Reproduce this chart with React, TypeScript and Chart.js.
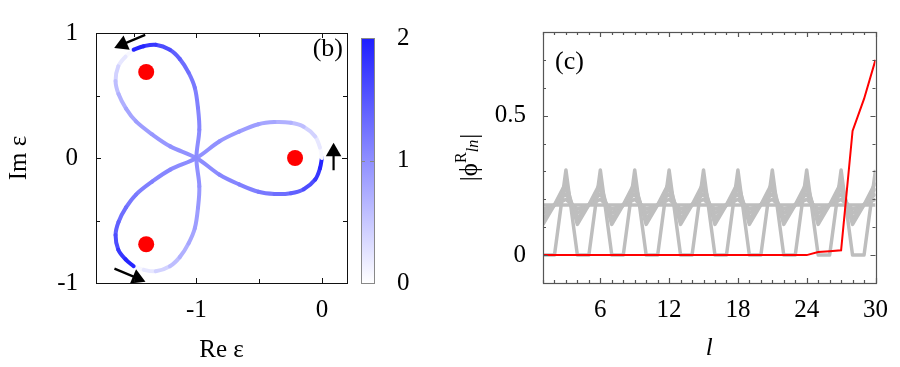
import React, { useEffect, useRef } from 'react';
import { Chart, registerables } from 'chart.js';

Chart.register(...registerables);

const FONT = "'Liberation Serif', 'DejaVu Serif', serif";

// ---------- panel (b): spectrum in the complex plane (Re eps, Im eps) ----------
// three open paths between the lobe tips, traversed in the arrow direction
const PATH1_X = [0, -0.0155, -0.0535, -0.1448, -0.2469, -0.3773, -0.5062, -0.66, -0.8153, -1, -1.2082, -1.3526, -1.4811, -1.5606, -1.6205, -1.6441, -1.6223, -1.5642, -1.5];
const PATH1_Y = [0, 0.083, 0.172, 0.25, 0.2816, 0.2878, 0.2704, 0.2108, 0.1337, 0, -0.0931, -0.189, -0.2924, -0.3954, -0.5114, -0.6156, -0.7337, -0.8111, -0.866];
const PATH2_X = [-1.5, -1.4204, -1.3243, -1.2111, -1.1327, -1.0622, -1.0127, -0.9874, -0.9766, -1, -0.9766, -0.9874, -1.0127, -1.0622, -1.1327, -1.2111, -1.3243, -1.4204, -1.5];
const PATH2_Y = [-0.866, -0.8941, -0.9057, -0.8656, -0.793, -0.6832, -0.5628, -0.3998, -0.2269, 0, 0.2269, 0.3998, 0.5628, 0.6832, 0.793, 0.8656, 0.9057, 0.8941, 0.866];
const PATH3_X = [-1.5, -1.5642, -1.6223, -1.6441, -1.6205, -1.5606, -1.4811, -1.3526, -1.2082, -1, -0.8153, -0.66, -0.5062, -0.3773, -0.2469, -0.1448, -0.0535, -0.0155, 0];
const PATH3_Y = [0.866, 0.8111, 0.7337, 0.6156, 0.5114, 0.3954, 0.2924, 0.189, 0.0931, 0, -0.1337, -0.2108, -0.2704, -0.2878, -0.2816, -0.25, -0.172, -0.083, 0];
// colour-bar value along each path (0 .. 2)
const CURVE_VALUES = [0, 0.12, 0.3, 0.5, 0.65, 0.76, 0.84, 0.9, 0.95, 1.0, 1.05, 1.1, 1.16, 1.24, 1.34, 1.48, 1.68, 1.88, 2.0];

const POLES_X = [-1.4, -0.214, -1.4];
const POLES_Y = [0.688, 0, -0.69];

const ARROW_TAIL_X = [0.093, -1.408, -1.653];
const ARROW_TAIL_Y = [-0.098, 0.985, -0.885];
const ARROW_HEAD_X = [0.093, -1.589, -1.472];
const ARROW_HEAD_Y = [0.051, 0.909, -0.961];
const ARROW_ANGLE = [0, 247, 113];

const X_TICKS_B = [-1.5, -1, -0.5, 0];
const X_LABELS_B = ['', '-1', '', '0'];
const Y_TICKS_B = [-1, -0.5, 0, 0.5, 1];
const Y_LABELS_B = ['-1', '', '0', '', '1'];
const CBAR_TICKS = [0, 1, 2];
const CBAR_LABELS = ['0', '1', '2'];

// ---------- panel (c): |phi^R_ln| versus site l ----------
const SITES = [1, 2, 3, 4, 5, 6, 7, 8, 9, 10, 11, 12, 13, 14, 15, 16, 17, 18, 19, 20, 21, 22, 23, 24, 25, 26, 27, 28, 29, 30];
const X_LABELS_C = ['', '', '', '', '', '6', '', '', '', '', '', '12', '', '', '', '', '', '18', '', '', '', '', '', '24', '', '', '', '', '', '30'];
const Y_TICKS_C = [-0.1, 0, 0.1, 0.2, 0.3, 0.4, 0.5, 0.6, 0.7, 0.8];
const Y_LABELS_C = ['', '0', '', '', '', '', '0.5', '', '', ''];

const GREY_A = [0, 0, 0.305, 0, 0, 0.305, 0, 0, 0.305, 0, 0, 0.305, 0, 0, 0.305, 0, 0, 0.305, 0, 0, 0.305, 0, 0, 0.305, 0, 0, 0.305, 0, 0, 0.305];
const GREY_B1 = [0.11, 0.18, 0.26, 0.11, 0.18, 0.26, 0.11, 0.18, 0.26, 0.11, 0.18, 0.26, 0.11, 0.18, 0.26, 0.11, 0.18, 0.26, 0.11, 0.18, 0.26, 0.11, 0.18, 0.26, 0.11, 0.18, 0.26, 0.11, 0.18, 0.26];
const GREY_B2 = [0.13, 0.18, 0.24, 0.13, 0.18, 0.24, 0.13, 0.18, 0.24, 0.13, 0.18, 0.24, 0.13, 0.18, 0.24, 0.13, 0.18, 0.24, 0.13, 0.18, 0.24, 0.13, 0.18, 0.24, 0.13, 0.18, 0.24, 0.13, 0.18, 0.24];
const GREY_B3 = [0.15, 0.18, 0.22, 0.15, 0.18, 0.22, 0.15, 0.18, 0.22, 0.15, 0.18, 0.22, 0.15, 0.18, 0.22, 0.15, 0.18, 0.22, 0.15, 0.18, 0.22, 0.15, 0.18, 0.22, 0.15, 0.18, 0.22, 0.15, 0.18, 0.22];
const GREY_B4 = [0.165, 0.18, 0.2, 0.165, 0.18, 0.2, 0.165, 0.18, 0.2, 0.165, 0.18, 0.2, 0.165, 0.18, 0.2, 0.165, 0.18, 0.2, 0.165, 0.18, 0.2, 0.165, 0.18, 0.2, 0.165, 0.18, 0.2, 0.165, 0.18, 0.2];
const GREY_FLAT = [0.18, 0.18, 0.18, 0.18, 0.18, 0.18, 0.18, 0.18, 0.18, 0.18, 0.18, 0.18, 0.18, 0.18, 0.18, 0.18, 0.18, 0.18, 0.18, 0.18, 0.18, 0.18, 0.18, 0.18, 0.18, 0.18, 0.18, 0.18, 0.18, 0.18];
const RED_STATE = [0, 0, 0, 0, 0, 0, 0, 0, 0, 0, 0, 0, 0, 0, 0, 0, 0, 0, 0, 0, 0, 0, 0, 0, 0.011, 0.014, 0.017, 0.445, 0.56, 0.7];

function zip(xs: number[], ys: number[]) {
  return xs.map((x, i) => ({ x, y: ys[i] }));
}

function blue(v: number) {
  const t = Math.max(0, Math.min(1, v / 2));
  const c = Math.round(255 - t * 225);
  return `rgb(${c},${c},255)`;
}

const frameTicks = {
  id: 'frameTicks',
  afterDatasetsDraw(chart: any, _args: any, opts: any) {
    const { ctx, chartArea: a } = chart;
    ctx.save();
    ctx.strokeStyle = opts.color;
    ctx.lineWidth = opts.width;
    (opts.axes || []).forEach((id: string) => {
      const s = chart.scales[id];
      if (!s) return;
      s.ticks.forEach((t: any) => {
        const len = t.label ? opts.major : opts.minor;
        const p = Math.round(s.getPixelForValue(t.value)) + 0.5;
        ctx.beginPath();
        if (s.isHorizontal()) {
          ctx.moveTo(p, a.bottom); ctx.lineTo(p, a.bottom - len);
          ctx.moveTo(p, a.top); ctx.lineTo(p, a.top + len);
        } else {
          ctx.moveTo(a.left, p); ctx.lineTo(a.left + len, p);
          ctx.moveTo(a.right, p); ctx.lineTo(a.right - len, p);
        }
        ctx.stroke();
      });
    });
    ctx.strokeRect(Math.round(a.left) + 0.5, Math.round(a.top) + 0.5, Math.round(a.right - a.left), Math.round(a.bottom - a.top));
    ctx.restore();
  },
};

const panelText = {
  id: 'panelText',
  afterDraw(chart: any, _args: any, opts: any) {
    const { ctx, chartArea: a } = chart;
    (opts.items || []).forEach((it: any) => {
      ctx.save();
      ctx.font = it.font;
      ctx.fillStyle = '#000';
      ctx.textAlign = it.align;
      ctx.textBaseline = 'alphabetic';
      const x = it.fromRight ? a.right + it.dx : a.left + it.dx;
      ctx.fillText(it.text, x, a.top + it.dy);
      ctx.restore();
    });
    if (opts.rich) {
      const r = opts.rich;
      ctx.save();
      ctx.fillStyle = '#000';
      ctx.textBaseline = 'alphabetic';
      ctx.textAlign = 'left';
      let total = 0;
      const widths = r.parts.map((p: any) => { ctx.font = p.font; const w = ctx.measureText(p.text).width + (p.gap || 0); total += w; return w; });
      ctx.translate(a.left + r.dx, (a.top + a.bottom) / 2 + r.dy);
      ctx.rotate(-Math.PI / 2);
      let x = -total / 2;
      r.parts.forEach((p: any, i: number) => {
        ctx.font = p.font;
        ctx.fillText(p.text, x, p.shift);
        x += widths[i];
      });
      ctx.restore();
    }
  },
};

const tickFont = { family: FONT, size: 25 };

export default function App() {
  const refB = useRef<HTMLCanvasElement>(null);
  const refBar = useRef<HTMLCanvasElement>(null);
  const refC = useRef<HTMLCanvasElement>(null);

  useEffect(() => {
    const paths = [zip(PATH1_X, PATH1_Y), zip(PATH2_X, PATH2_Y), zip(PATH3_X, PATH3_Y)];
    const arrows = ARROW_TAIL_X.map((_, i) => ({
      data: [{ x: ARROW_TAIL_X[i], y: ARROW_TAIL_Y[i] }, { x: ARROW_HEAD_X[i], y: ARROW_HEAD_Y[i] }],
      showLine: true,
      borderColor: '#000',
      borderWidth: 2.2,
      pointRadius: [0, 9],
      pointStyle: 'triangle',
      pointRotation: [0, ARROW_ANGLE[i]],
      pointBackgroundColor: '#000',
      pointBorderColor: '#000',
      pointBorderWidth: 0,
    }));
    const chartB = new Chart(refB.current as HTMLCanvasElement, {
      type: 'scatter',
      data: {
        datasets: [
          { data: zip(POLES_X, POLES_Y), pointRadius: 8, pointBackgroundColor: '#ff0000', pointBorderWidth: 0, showLine: false } as any,
          ...arrows,
          ...paths.map((d) => ({
            data: d,
            showLine: true,
            pointRadius: 0,
            borderWidth: 4,
            tension: 0.35,
            borderCapStyle: 'round',
            borderJoinStyle: 'round',
            borderColor: blue(1),
            segment: { borderColor: (c: any) => blue((CURVE_VALUES[c.p0DataIndex] + CURVE_VALUES[c.p1DataIndex]) / 2) },
          })),
        ],
      },
      options: {
        responsive: false,
        animation: false,
        events: [],
        layout: { padding: { top: 23, right: 2, left: 0, bottom: 0 } },
        plugins: {
          legend: { display: false },
          tooltip: { enabled: false },
          frameTicks: { color: '#111', width: 1, major: 5, minor: 4, axes: ['x', 'y'] },
          panelText: { items: [{ text: '(b)', font: `26px ${FONT}`, align: 'right', fromRight: true, dx: -4, dy: 23 }] },
        } as any,
        scales: {
          x: {
            type: 'linear', min: -1.8, max: 0.2,
            grid: { display: false, drawTicks: false }, border: { display: false },
            afterBuildTicks: (s: any) => { s.ticks = X_TICKS_B.map((v) => ({ value: v })); },
            afterFit: (s: any) => { s.height = 84; },
            ticks: { autoSkip: false, maxRotation: 0, padding: 12, color: '#000', font: tickFont, callback: (_v: any, i: number) => X_LABELS_B[i] },
            title: { display: true, text: 'Re ε', color: '#000', font: tickFont, padding: { top: 0, bottom: 2 } },
          },
          y: {
            type: 'linear', min: -1, max: 1,
            grid: { display: false, drawTicks: false }, border: { display: false },
            afterBuildTicks: (s: any) => { s.ticks = Y_TICKS_B.map((v) => ({ value: v })); },
            afterFit: (s: any) => { s.width = 96; },
            ticks: { autoSkip: false, padding: 18, color: '#000', font: tickFont, callback: (_v: any, i: number) => Y_LABELS_B[i] },
            title: { display: true, text: 'Im ε', color: '#000', font: tickFont, padding: { top: 4.6, bottom: 0 } },
          },
        },
      } as any,
      plugins: [frameTicks, panelText],
    });

    const chartBar = new Chart(refBar.current as HTMLCanvasElement, {
      type: 'bar',
      data: {
        labels: [''],
        datasets: [{
          data: [[0, 2]],
          borderWidth: 0,
          barPercentage: 1,
          categoryPercentage: 1,
          backgroundColor: (c: any) => {
            const a = c.chart.chartArea;
            if (!a) return blue(1);
            const g = c.chart.ctx.createLinearGradient(0, a.bottom, 0, a.top);
            g.addColorStop(0, blue(0));
            g.addColorStop(0.5, blue(1));
            g.addColorStop(1, blue(2));
            return g;
          },
        } as any],
      },
      options: {
        responsive: false,
        animation: false,
        events: [],
        layout: { padding: { top: 23, right: 0, left: 5, bottom: 84 } },
        plugins: {
          legend: { display: false },
          tooltip: { enabled: false },
          frameTicks: { color: '#888', width: 1, major: 4, minor: 4, axes: ['y'] },
        } as any,
        scales: {
          x: { display: false },
          y: {
            position: 'right', min: 0, max: 2,
            grid: { display: false, drawTicks: false }, border: { display: false },
            afterBuildTicks: (s: any) => { s.ticks = CBAR_TICKS.map((v) => ({ value: v })); },
            afterFit: (s: any) => { s.width = 76; },
            ticks: { autoSkip: false, padding: 23, color: '#000', font: tickFont, callback: (_v: any, i: number) => CBAR_LABELS[i] },
          },
        },
      } as any,
      plugins: [frameTicks],
    });

    const greyStyle = { showLine: true, pointRadius: 0, borderWidth: 3.5, borderColor: '#bebebe', borderJoinStyle: 'round', tension: 0 };
    const chartC = new Chart(refC.current as HTMLCanvasElement, {
      type: 'scatter',
      data: {
        datasets: [
          { data: zip(SITES, RED_STATE), showLine: true, pointRadius: 0, borderWidth: 2, borderColor: '#ff0000', tension: 0 } as any,
          { data: zip(SITES, GREY_A), ...greyStyle },
          { data: zip(SITES, GREY_B1), ...greyStyle },
          { data: zip(SITES, GREY_B2), ...greyStyle },
          { data: zip(SITES, GREY_B3), ...greyStyle },
          { data: zip(SITES, GREY_B4), ...greyStyle },
          { data: zip(SITES, GREY_FLAT), ...greyStyle },
        ],
      },
      options: {
        responsive: false,
        animation: false,
        events: [],
        layout: { padding: { top: 23, right: 21, left: 0, bottom: 0 } },
        plugins: {
          legend: { display: false },
          tooltip: { enabled: false },
          frameTicks: { color: '#555', width: 1.2, major: 5, minor: 3, axes: ['x', 'y'] },
          panelText: {
            items: [{ text: '(c)', font: `26px ${FONT}`, align: 'left', dx: 12, dy: 37 }],
            rich: {
              dx: -66, dy: 0,
              parts: [
                { text: '|', font: `25px ${FONT}`, shift: 0 },
                { text: 'ϕ', font: `25px ${FONT}`, shift: 0 },
                { text: 'R', font: `16px ${FONT}`, shift: -11 },
                { text: 'ln', font: `italic 16px ${FONT}`, shift: 1, gap: 1 },
                { text: '|', font: `25px ${FONT}`, shift: 0 },
              ],
            },
          },
        } as any,
        scales: {
          x: {
            type: 'linear', min: 1, max: 30,
            grid: { display: false, drawTicks: false }, border: { display: false },
            afterBuildTicks: (s: any) => { s.ticks = SITES.map((v) => ({ value: v })); },
            afterFit: (s: any) => { s.height = 84; },
            ticks: { autoSkip: false, maxRotation: 0, padding: 12, color: '#000', font: tickFont, callback: (_v: any, i: number) => X_LABELS_C[i] },
            title: { display: true, text: 'l', color: '#000', font: { family: FONT, size: 25, style: 'italic' }, padding: { top: 0, bottom: 4 } },
          },
          y: {
            type: 'linear', min: -0.1, max: 0.8,
            grid: { display: false, drawTicks: false }, border: { display: false },
            afterBuildTicks: (s: any) => { s.ticks = Y_TICKS_C.map((v) => ({ value: v })); },
            afterFit: (s: any) => { s.width = 93; },
            ticks: { autoSkip: false, padding: 17, color: '#000', font: tickFont, callback: (_v: any, i: number) => Y_LABELS_C[i] },
          },
        },
      } as any,
      plugins: [frameTicks, panelText],
    });

    return () => {
      chartB.destroy();
      chartBar.destroy();
      chartC.destroy();
    };
  }, []);

  return (
    <div style={{ position: 'fixed', left: 0, top: 0, width: 900, height: 367, background: '#fff' }}>
      <canvas ref={refB} width={356} height={367} style={{ position: 'absolute', left: 0, top: 0 }} />
      <canvas ref={refBar} width={94} height={367} style={{ position: 'absolute', left: 356, top: 0 }} />
      <canvas ref={refC} width={450} height={367} style={{ position: 'absolute', left: 450, top: 0 }} />
    </div>
  );
}
